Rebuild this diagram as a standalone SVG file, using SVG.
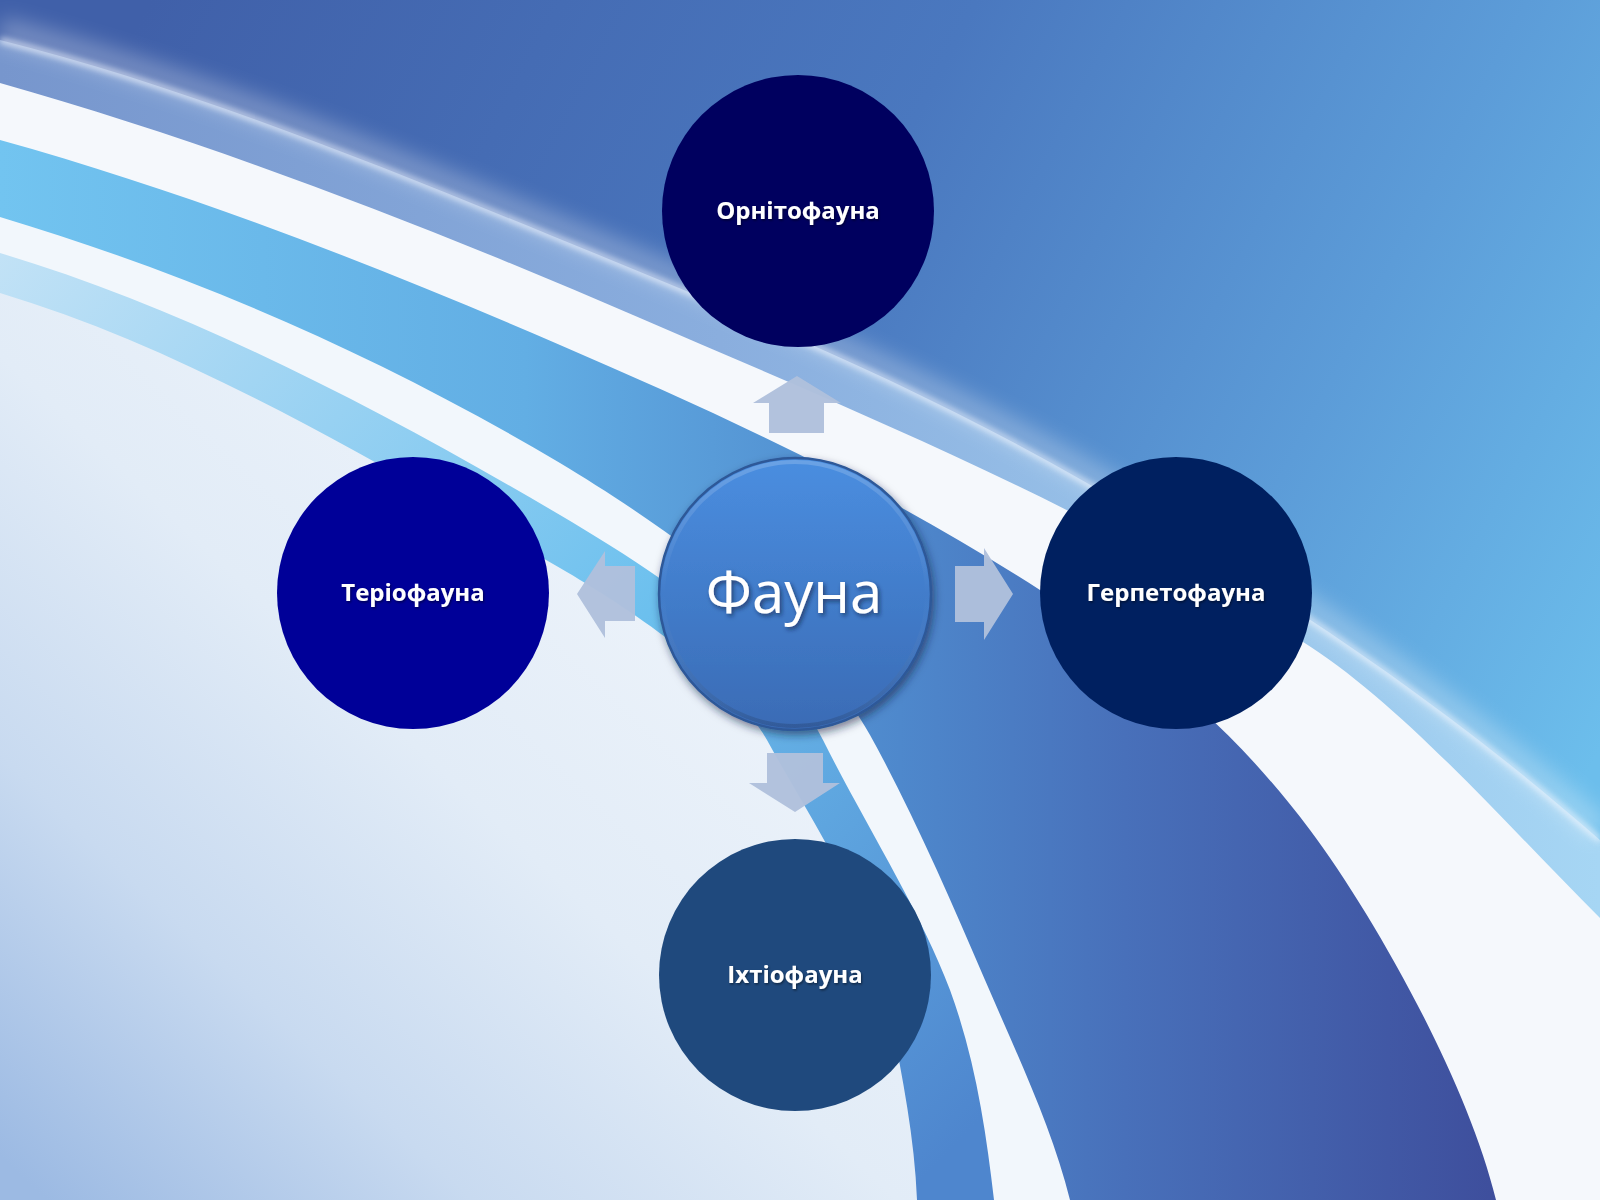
<svg xmlns="http://www.w3.org/2000/svg" width="1600" height="1200" viewBox="0 0 1600 1200">
<defs>
<style>
.lbl{font-family:"Open Sans","Noto Sans","DejaVu Sans",sans-serif;font-weight:700;font-size:24px;fill:#ffffff;text-anchor:middle;filter:url(#txtShadow)}
.big{font-family:"Open Sans","Noto Sans","DejaVu Sans",sans-serif;font-weight:400;font-size:58px;fill:#ffffff;text-anchor:middle;filter:url(#bigShadow)}
.arrow{fill:#AFC0DC;opacity:0.97}
</style>
<linearGradient id="sky" gradientUnits="userSpaceOnUse" x1="150" y1="0" x2="1600" y2="750">
<stop offset="0" stop-color="#4060A9"/>
<stop offset="0.45" stop-color="#4A78BF"/>
<stop offset="0.75" stop-color="#5C9CD8"/>
<stop offset="1" stop-color="#6CBEEC"/>
</linearGradient>
<linearGradient id="grayBand" gradientUnits="userSpaceOnUse" x1="0" y1="0" x2="1600" y2="0">
<stop offset="0" stop-color="#7796CD"/>
<stop offset="0.45" stop-color="#8AAEDE"/>
<stop offset="1" stop-color="#A6D6F4"/>
</linearGradient>
<linearGradient id="mainBand" gradientUnits="userSpaceOnUse" x1="0" y1="0" x2="1500" y2="0">
<stop offset="0" stop-color="#72C4F0"/>
<stop offset="0.35" stop-color="#62AEE4"/>
<stop offset="0.6" stop-color="#4E88CC"/>
<stop offset="0.75" stop-color="#4870BA"/>
<stop offset="1" stop-color="#3E4E9C"/>
</linearGradient>
<linearGradient id="innerBand" gradientUnits="userSpaceOnUse" x1="0" y1="250" x2="950" y2="1150">
<stop offset="0" stop-color="#C2E2F6"/>
<stop offset="0.55" stop-color="#6CC0EE"/>
<stop offset="1" stop-color="#4E86CE"/>
</linearGradient>
<linearGradient id="pale" gradientUnits="userSpaceOnUse" x1="900" y1="400" x2="100" y2="1250">
<stop offset="0" stop-color="#F6F9FD"/>
<stop offset="0.5" stop-color="#E2ECF7"/>
<stop offset="0.75" stop-color="#C8DAF0"/>
<stop offset="1" stop-color="#9CBAE3"/>
</linearGradient>
<linearGradient id="centerFill" x1="0" y1="0" x2="0" y2="1">
<stop offset="0" stop-color="#4A8EE0"/>
<stop offset="1" stop-color="#3A6BB5"/>
</linearGradient>
<linearGradient id="rim" x1="0" y1="0" x2="0" y2="1">
<stop offset="0" stop-color="#ffffff" stop-opacity="0.18"/>
<stop offset="0.5" stop-color="#ffffff" stop-opacity="0"/>
<stop offset="1" stop-color="#000000" stop-opacity="0.15"/>
</linearGradient>
<filter id="blur3" x="-10%" y="-10%" width="120%" height="120%"><feGaussianBlur stdDeviation="3"/></filter>
<filter id="blur10" x="-10%" y="-20%" width="120%" height="140%"><feGaussianBlur stdDeviation="10"/></filter>
<filter id="circShadow" x="-20%" y="-20%" width="140%" height="140%"><feDropShadow dx="2" dy="4" stdDeviation="4" flood-color="#0A1E40" flood-opacity="0.55"/></filter>
<filter id="txtShadow" x="-10%" y="-30%" width="120%" height="160%"><feDropShadow dx="1" dy="1.5" stdDeviation="1" flood-color="#000" flood-opacity="0.45"/></filter>
<filter id="bigShadow" x="-10%" y="-30%" width="120%" height="160%"><feDropShadow dx="2" dy="2.5" stdDeviation="2" flood-color="#0A1A3A" flood-opacity="0.6"/></filter>
</defs>

<g id="background">
<rect x="0" y="0" width="1600" height="1200" fill="url(#sky)"/>
<path d="M0,40 C180,85 367,160 550,235 C729,308 908,380 1087,483 C1258,581 1429,690 1600,840 L1600,1200 L0,1200 Z" fill="url(#grayBand)"/>
<path d="M0,40 C180,85 367,160 550,235 C729,308 908,380 1087,483 C1258,581 1429,690 1600,840" transform="translate(0,-10)" fill="none" stroke="#ffffff" stroke-width="26" opacity="0.28" filter="url(#blur10)"/>
<path d="M0,40 C180,85 367,160 550,235 C729,308 908,380 1087,483 C1258,581 1429,690 1600,840" fill="none" stroke="#F4F8FF" stroke-width="5" opacity="0.8" filter="url(#blur3)"/>
<path d="M0,83 C213,143 427,226 640,318 C860,413 1080,503 1300,640 C1400,702 1500,818 1600,918 L1600,1200 L0,1200 Z" fill="#F5F8FC"/>
<path d="M0,140 C187,192 373,264 560,345 C720,414 880,487 1040,590 C1130,648 1220,710 1310,830 C1372,913 1466,1077 1496,1200 L0,1200 Z" fill="url(#mainBand)"/>
<path d="M0,217 C187,273 373,352 560,463 C663,525 810,627 870,735 C910,807 950,898 985,980 C1015,1050 1052,1127 1070,1200 L0,1200 Z" fill="#F2F7FC"/>
<path d="M0,253 C187,309 373,405 560,515 C648,567 778,650 823,740 C865,824 920,910 950,990 C975,1058 986,1130 994,1200 L0,1200 Z" fill="url(#innerBand)"/>
<path d="M0,293 C187,349 373,460 560,568 C629,608 732,677 767,740 C804,807 856,887 880,960 C894,1040 914,1120 917,1200 L0,1200 Z" fill="url(#pale)"/>
</g>

<g id="connectors">
<path id="arrow-up" class="arrow" d="M797,376 L841,403 L824,403 L824,433 L769,433 L769,403 L753,403 Z"/>
<path id="arrow-right" class="arrow" d="M955,566 L984,566 L984,548 L1013,594 L984,640 L984,622 L955,622 Z"/>
<path id="arrow-down" class="arrow" d="M767,753 L823,753 L823,783 L840,783 L795,812 L749,783 L767,783 Z"/>
<path id="arrow-left" class="arrow" d="M635,566 L605,566 L605,551 L577,594 L605,638 L605,621 L635,621 Z"/>
</g>

<g id="node-ornitofauna">
<circle cx="798" cy="211" r="136" fill="#00005F"/>
<text class="lbl" x="798" y="219">Орнітофауна</text>
</g>

<g id="node-teriofauna">
<circle cx="413" cy="593" r="136" fill="#000098"/>
<text class="lbl" x="413" y="601">Теріофауна</text>
</g>

<g id="node-herpetofauna">
<circle cx="1176" cy="593" r="136" fill="#002060"/>
<text class="lbl" x="1176" y="601">Герпетофауна</text>
</g>

<g id="node-ikhtiofauna">
<circle cx="795" cy="975" r="136" fill="#1F497D"/>
<text class="lbl" x="795" y="983">Іхтіофауна</text>
</g>

<g id="node-fauna">
<circle cx="795" cy="594" r="136" fill="url(#centerFill)" stroke="#2D5898" stroke-width="2.5" filter="url(#circShadow)"/>
<circle cx="795" cy="594" r="132" fill="none" stroke="url(#rim)" stroke-width="4"/>
<text class="big" x="794" y="613">Фауна</text>
</g>
</svg>
